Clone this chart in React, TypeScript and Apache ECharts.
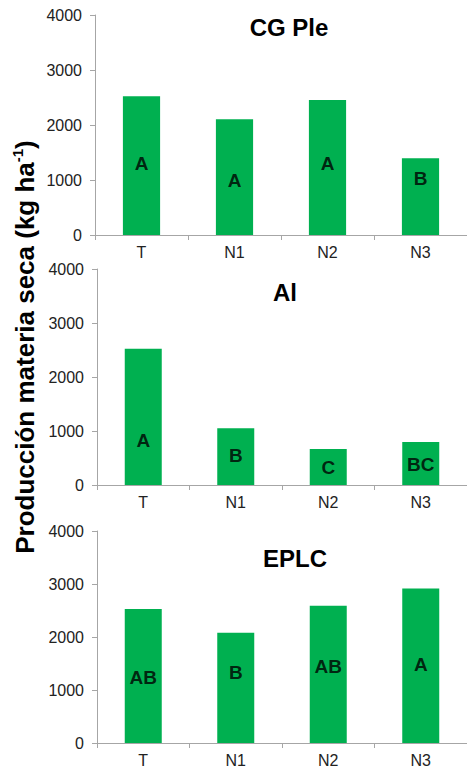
import React, { useEffect, useRef } from "react";
import * as echarts from "echarts";

const categories = ["T", "N1", "N2", "N3"];
const panelTitles = ["CG Ple", "Al", "EPLC"];
const yTicks = [0, 1000, 2000, 3000, 4000];

const valuesCGPle = [2522, 2103, 2455, 1394];
const valuesAl = [2524, 1050, 667, 796];
const valuesEPLC = [2528, 2081, 2590, 2917];

const lettersCGPle = ["A", "A", "A", "B"];
const lettersAl = ["A", "B", "C", "BC"];
const lettersEPLC = ["AB", "B", "AB", "A"];

// vertical position of the letter labels, in data units
const letterPosCGPle = [1309, 1000, 1309, 1036];
const letterPosAl = [820, 555, 328, 383];
const letterPosEPLC = [1245, 1332, 1434, 1490];

const yTitle = "Producción materia seca (kg ha";

const FONT = "'Liberation Sans', Arial, sans-serif";

export default function App() {
  const ref = useRef<HTMLDivElement>(null);
  useEffect(() => {
    if (!ref.current) return;
    document.body.style.margin = "0";
    const chart = echarts.init(ref.current, undefined, { renderer: "svg" });

    const grids = [
      { left: 95, top: 15, width: 372, height: 220 },
      { left: 97, top: 269, width: 370, height: 216 },
      { left: 97, top: 531, width: 370, height: 212 },
    ];
    const values = [valuesCGPle, valuesAl, valuesEPLC];
    const letters = [lettersCGPle, lettersAl, lettersEPLC];
    const letterPos = [letterPosCGPle, letterPosAl, letterPosEPLC];
    const titlePos = [
      [289, 27],
      [285, 292],
      [295, 558],
    ];

    const axisColor = "#a6a6a6";

    const xAxis = grids.map((_, i) => ({
      type: "category",
      gridIndex: i,
      data: categories,
      axisLine: { lineStyle: { color: axisColor, width: 1 } },
      axisTick: { show: true, length: 5, lineStyle: { color: axisColor } },
      axisLabel: { color: "#222", fontSize: 16, fontFamily: FONT, margin: 9 },
    }));
    const yAxis = grids.map((_, i) => ({
      type: "value",
      gridIndex: i,
      min: yTicks[0],
      max: yTicks[yTicks.length - 1],
      interval: 1000,
      axisLine: { show: true, lineStyle: { color: axisColor, width: 1 } },
      axisTick: { show: true, length: 5, lineStyle: { color: axisColor } },
      splitLine: { show: false },
      axisLabel: {
        color: "#222",
        fontSize: 16,
        fontFamily: FONT,
        margin: 13,
        formatter: (v: number) => String(v),
      },
    }));

    const series: any[] = [];
    grids.forEach((_, i) => {
      series.push({
        type: "bar",
        xAxisIndex: i,
        yAxisIndex: i,
        data: values[i],
        barWidth: "40%",
        itemStyle: { color: "#00b050" },
      });
      series.push({
        type: "scatter",
        xAxisIndex: i,
        yAxisIndex: i,
        symbolSize: 0,
        data: categories.map((c, j) => ({ value: [c, letterPos[i][j]], name: letters[i][j] })),
        label: {
          show: true,
          position: "inside",
          formatter: (p: any) => p.name,
          color: "#000",
          fontSize: 19,
          fontWeight: "bold",
          fontFamily: FONT,
        },
        z: 5,
      });
    });

    const graphics: any[] = panelTitles.map((t, i) => ({
      type: "text",
      x: titlePos[i][0],
      y: titlePos[i][1],
      style: {
        text: t,
        align: "center",
        verticalAlign: "middle",
        fill: "#000",
        font: `bold 24px ${FONT}`,
      },
    }));
    graphics.push({
      type: "text",
      x: 25,
      y: 347,
      rotation: Math.PI / 2,
      style: {
        text: `{a|${yTitle}}{s|-1}{a|)}`,
        align: "center",
        verticalAlign: "middle",
        rich: {
          a: { fontSize: 26, fontWeight: "bold", fontFamily: FONT, fill: "#000", lineHeight: 30 },
          s: { fontSize: 15, fontWeight: "bold", fontFamily: FONT, fill: "#000", verticalAlign: "top", lineHeight: 30, padding: [0, 0, 10, 0] },
        },
      },
    });

    chart.setOption({
      animation: false,
      backgroundColor: "#fff",
      grid: grids.map((g) => ({ ...g, containLabel: false })),
      xAxis,
      yAxis,
      series,
      graphic: graphics,
    });
    return () => chart.dispose();
  }, []);
  return <div ref={ref} style={{ position: "fixed", left: 0, top: 0, width: 467, height: 769 }} />;
}
